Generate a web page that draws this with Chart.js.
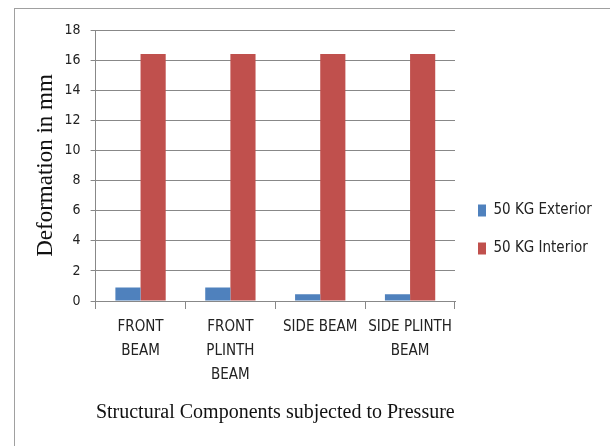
<!DOCTYPE html>
<html><head><meta charset="utf-8">
<script src="https://cdn.jsdelivr.net/npm/chart.js@4/dist/chart.umd.min.js"></script>
<style>
html,body{margin:0;padding:0;background:#fff;}
#wrap{position:absolute;left:0;top:0;width:610px;height:446px;}
#frame{position:absolute;left:14px;top:8px;width:600px;height:460px;border:1px solid #a0a0a0;box-sizing:border-box;}
canvas{position:absolute;left:0;top:0;}
</style></head>
<body>
<div id="wrap"><div id="frame"></div><canvas id="c" width="610" height="446"></canvas></div>
<script>
const categories = [["FRONT","BEAM"],["FRONT","PLINTH","BEAM"],"SIDE BEAM",["SIDE PLINTH","BEAM"]];
const exterior = [0.9, 0.9, 0.45, 0.45];
const interior = [16.4, 16.4, 16.4, 16.4];
const seriesNames = ["50 KG Exterior","50 KG Interior"];
const yTitle = "Deformation in mm";
const xTitle = "Structural Components subjected to Pressure";

const sans = "'DejaVu Sans Condensed','Liberation Sans Narrow','Liberation Sans',sans-serif";
const serif = "'Liberation Serif','DejaVu Serif',serif";

new Chart(document.getElementById('c'), {
  type: 'bar',
  data: {
    labels: categories,
    datasets: [
      {label: seriesNames[0], data: exterior, backgroundColor: '#4F81BD'},
      {label: seriesNames[1], data: interior, backgroundColor: '#C0504D'}
    ]
  },
  options: {
    responsive: false,
    animation: false,
    devicePixelRatio: 1,
    layout: {padding: {left: 32, top: 30, right: 14, bottom: 21}},
    datasets: {bar: {categoryPercentage: 0.56, barPercentage: 1.0}},
    plugins: {
      tooltip: {enabled: false},
      legend: {
        position: 'right',
        align: 'start',
        title: {display: true, text: ' ', padding: {top: 138, bottom: 0}, font: {size: 10}},
        labels: {boxWidth: 8, boxHeight: 12, padding: 23, color: '#222', font: {family: sans, size: 15}}
      }
    },
    scales: {
      x: {
        grid: {offset: true, drawOnChartArea: false, tickLength: 8, color: '#888'},
        border: {color: '#888'},
        ticks: {autoSkip: false, color: '#222', font: {family: sans, size: 15, lineHeight: 1.6}, padding: 6, maxRotation: 0},
        title: {display: true, text: xTitle, color: '#111', font: {family: serif, size: 20}, padding: {top: 8, bottom: 0}}
      },
      y: {
        min: 0, max: 18,
        ticks: {stepSize: 2, color: '#222', font: {family: sans, size: 14}, padding: 10},
        grid: {color: '#888', tickLength: 5},
        border: {color: '#888'},
        title: {display: true, text: yTitle, color: '#111', font: {family: serif, size: 23}, padding: {top: 0, bottom: -5}}
      }
    }
  }
});
</script>
</body></html>
